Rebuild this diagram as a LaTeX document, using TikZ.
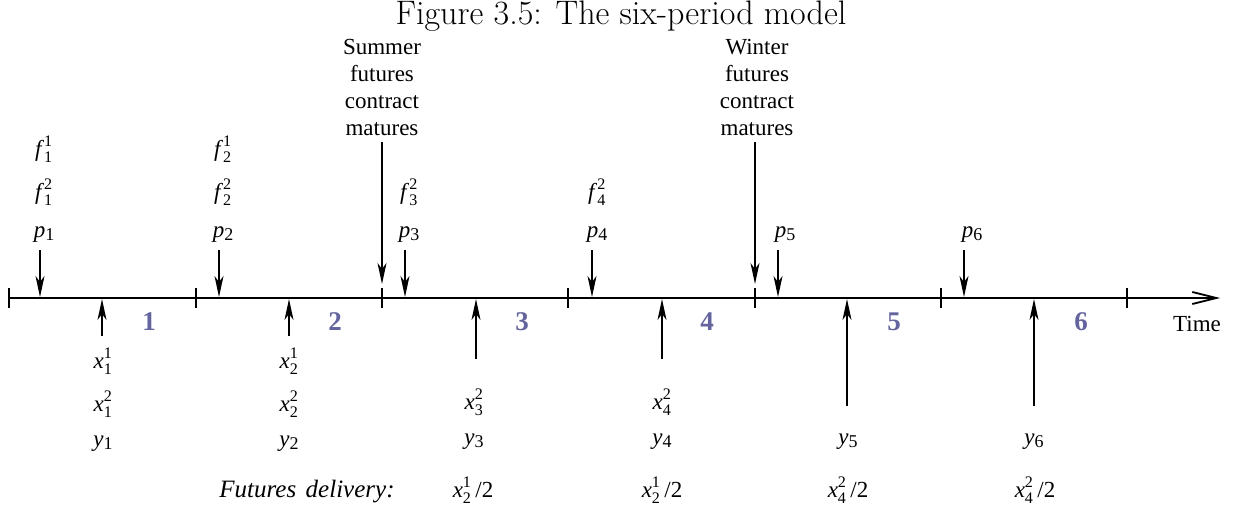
\documentclass[tikz,border=0pt]{standalone}
\usepackage{amsmath}
\usepackage{fontspec}
\usetikzlibrary{arrows.meta}
\newfontfamily\tms{Liberation Serif}
\definecolor{pnumcol}{RGB}{100,100,158}
\newcommand\vsp[3]{\textit{#1}$_{\text{#2}}^{\text{#3}}$}
\newcommand\vsb[2]{\textit{#1}\raisebox{-3pt}{\fontsize{18}{18}\selectfont #2}}
\tikzset{
  txt/.style={font=\tms\fontsize{23}{27}\selectfont, inner sep=0pt, anchor=base},
  pnum/.style={font=\tms\bfseries\fontsize{27}{27}\selectfont, text=pnumcol, inner sep=0pt, anchor=base},
  arr/.style={line width=1.6pt, -{Stealth[length=21pt,width=9pt,inset=6pt]}},
  axisline/.style={line width=2.2pt, -{Straight Barb[length=24pt,width=12pt,line width=1.8pt]}},
  tickmark/.style={line width=1.8pt}
}
\begin{document}
\begin{tikzpicture}[x=1pt,y=-1pt]
\useasboundingbox (0,0) rectangle (1239,511);
% title
\node[font=\fontsize{34}{34}\selectfont, anchor=base, inner sep=0pt] (title) at (621,25) {Figure 3.5: The six-period model};
% axis and ticks
\coordinate (ax0) at (9,298);
\coordinate (axend) at (1220,298);
\draw[axisline] (ax0) -- (axend);
\foreach \i/\x in {0/9,1/196,2/382,3/568,4/755,5/941,6/1127}{
  \coordinate (t\i) at (\x,298);
  \draw[tickmark] ([yshift=10pt]t\i) -- ([yshift=-10pt]t\i);
}
% period numbers
\foreach \n/\x in {1/149,2/335,3/522,4/707,5/894,6/1081}{
  \node[pnum] (per\n) at (\x,330) {\n};
}
\node[txt] (time) at (1197,331) {Time};
% contract maturity texts
\node[txt, align=center] (summer) at (382,135) {Summer\\futures\\contract\\matures};
\node[txt, align=center] (winter) at (757,135) {Winter\\futures\\contract\\matures};
\coordinate (sa) at (382,142); \coordinate (sb) at (382,284);
\coordinate (wa) at (755,142); \coordinate (wb) at (755,284);
\draw[arr] (sa) -- (sb);
\draw[arr] (wa) -- (wb);
% top labels
\node[txt] (f11) at (44,156) {\vsp{f}{1}{1}};
\node[txt] (f12) at (44,199) {\vsp{f}{1}{2}};
\node[txt] (p1) at (44,237) {\vsb{p}{1}};
\node[txt] (f21) at (223,156) {\vsp{f}{2}{1}};
\node[txt] (f22) at (223,199) {\vsp{f}{2}{2}};
\node[txt] (p2) at (223,237) {\vsb{p}{2}};
\node[txt] (f32) at (409,199) {\vsp{f}{3}{2}};
\node[txt] (p3) at (409,237) {\vsb{p}{3}};
\node[txt] (f42) at (597,199) {\vsp{f}{4}{2}};
\node[txt] (p4) at (597,237) {\vsb{p}{4}};
\node[txt] (p5) at (785,237) {\vsb{p}{5}};
\node[txt] (p6) at (972,237) {\vsb{p}{6}};
% down arrows
\foreach \i/\x in {1/40,2/219,3/405,4/592,5/778,6/964}{
  \coordinate (da\i) at (\x,250);
  \coordinate (db\i) at (\x,297);
  \draw[arr] (da\i) -- (db\i);
}
% up arrows
\foreach \i/\x/\y in {1/102/336,2/289/336,3/476/359,4/662/359,5/847/406,6/1034/406}{
  \coordinate (ua\i) at (\x,\y);
  \coordinate (ub\i) at (\x,299);
  \draw[arr] (ua\i) -- (ub\i);
}
% bottom labels
\node[txt] (x11) at (103,368) {\vsp{x}{1}{1}};
\node[txt] (x12) at (103,411) {\vsp{x}{1}{2}};
\node[txt] (y1) at (103,446) {\vsb{y}{1}};
\node[txt] (x21) at (289,368) {\vsp{x}{2}{1}};
\node[txt] (x22) at (289,411) {\vsp{x}{2}{2}};
\node[txt] (y2) at (289,446) {\vsb{y}{2}};
\node[txt] (x32) at (474,409) {\vsp{x}{3}{2}};
\node[txt] (y3) at (474,444) {\vsb{y}{3}};
\node[txt] (x42) at (662,409) {\vsp{x}{4}{2}};
\node[txt] (y4) at (662,444) {\vsb{y}{4}};
\node[txt] (y5) at (848,444) {\vsb{y}{5}};
\node[txt] (y6) at (1034,444) {\vsb{y}{6}};
% futures delivery row
\node[txt, font=\tms\itshape\fontsize{25}{27}\selectfont] (fd) at (307,497) {Futures\hspace{0.38em}delivery:};
\node[txt] (d3) at (473,497) {\vsp{x}{2}{1}\,/2};
\node[txt] (d4) at (662,497) {\vsp{x}{2}{1}\,/2};
\node[txt] (d5) at (848,497) {\vsp{x}{4}{2}\,/2};
\node[txt] (d6) at (1035,497) {\vsp{x}{4}{2}\,/2};
\end{tikzpicture}
\end{document}
